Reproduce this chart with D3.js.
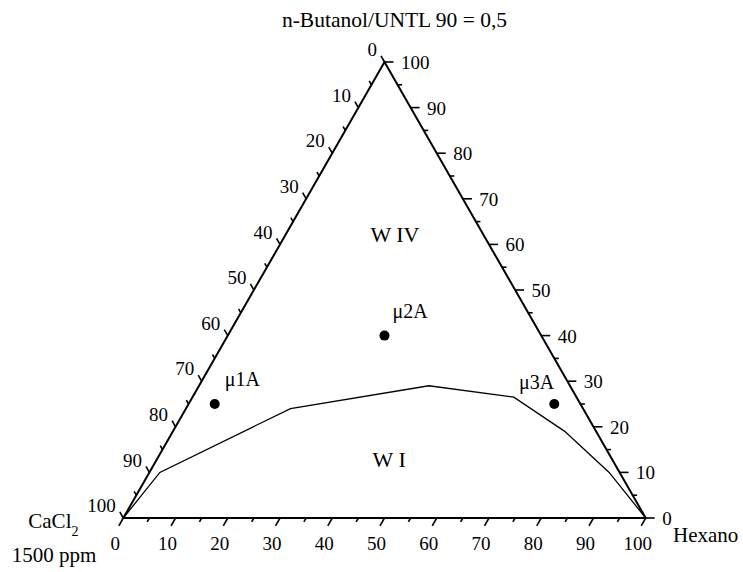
<!DOCTYPE html>
<html>
<head>
<meta charset="utf-8">
<script src="https://cdn.jsdelivr.net/npm/d3@7"></script>
<style>
  html, body { margin: 0; padding: 0; background: #fff; }
  svg { display: block; }
</style>
</head>
<body>
<svg id="chart" width="743" height="572" font-family="'Liberation Serif', 'Times New Roman', Times, serif"></svg>
<script>
// Ternary diagram: n-Butanol/UNTL (top), Hexano (bottom right), CaCl2 brine (bottom left)
const title = "n-Butanol/UNTL 90 = 0,5";
const majorTicks = [0, 10, 20, 30, 40, 50, 60, 70, 80, 90, 100];
const minorTicks = [5, 15, 25, 35, 45, 55, 65, 75, 85, 95];

// Phase boundary (Winsor I / Winsor IV), in % of the top and Hexano components
const boundaryButanol = [0, 10, 24, 29, 26.5, 19, 10, 0];
const boundaryHexano  = [0, 2, 20, 44, 61.5, 75, 88, 100];

// Microemulsion points
const pointNames   = ["μ1A", "μ2A", "μ3A"];
const pointButanol = [25, 40, 25];
const pointHexano  = [5, 30, 70];

// Region labels
const regionNames   = ["W IV", "W I"];
const regionButanol = [60.6, 11.2];
const regionHexano  = [21.7, 45.3];

const svg = d3.select("#chart");

// Horizontal position follows Hexano + half of the top component, vertical follows the top component
const x = d3.scaleLinear().domain([0, 100]).range([123.3, 645.7]);
const y = d3.scaleLinear().domain([0, 100]).range([518, 62]);
const pos = (t, h) => [x(h + t / 2), y(t)];

const BL = pos(0, 0), BR = pos(0, 100), T = pos(100, 0);

// Unit directions for the tick marks
function unit(a, b) { const dx = b[0] - a[0], dy = b[1] - a[1], n = Math.hypot(dx, dy); return [dx / n, dy / n]; }
const dirLeft = unit(BR, T);      // ticks on the CaCl2 side, parallel to the right edge
const dirBottom = unit(T, BL);    // ticks on the Hexano side, parallel to the left edge
const dirRight = [1, 0];          // ticks on the top-component side, horizontal

const g = svg.append("g");

// Triangle outline
g.append("path")
  .attr("d", d3.line()([BL, BR, T, BL]) + "Z")
  .attr("fill", "none").attr("stroke", "#000").attr("stroke-width", 2)
  .attr("stroke-linejoin", "miter");

function drawTicks(values, pointFn, dir, len) {
  g.selectAll(null).data(values).enter().append("line")
    .attr("x1", d => pointFn(d)[0]).attr("y1", d => pointFn(d)[1])
    .attr("x2", d => pointFn(d)[0] + dir[0] * len).attr("y2", d => pointFn(d)[1] + dir[1] * len)
    .attr("stroke", "#000").attr("stroke-width", 1.6);
}

// Left edge: CaCl2 %, 0 at top, 100 at bottom-left
const leftPt = c => pos(100 - c, 0);
// Bottom edge: Hexano %, 0 at left, 100 at right
const bottomPt = h => pos(0, h);
// Right edge: top component %, 0 at bottom-right, 100 at top
const rightPt = t => pos(t, 100 - t);

drawTicks(majorTicks, leftPt, dirLeft, 7);
drawTicks(minorTicks, leftPt, dirLeft, 4.5);
drawTicks(majorTicks, bottomPt, dirBottom, 9);
drawTicks(minorTicks, bottomPt, dirBottom, 4.5);
drawTicks(majorTicks, rightPt, dirRight, 9);
drawTicks(minorTicks, rightPt, dirRight, 4.5);

// Tick labels
g.selectAll(null).data(majorTicks).enter().append("text")
  .attr("x", d => leftPt(d)[0] - 7.5).attr("y", d => leftPt(d)[1] - 5.8)
  .attr("text-anchor", "end").attr("font-size", 19).text(d => d);
g.selectAll(null).data(majorTicks).enter().append("text")
  .attr("x", d => bottomPt(d)[0] - 8).attr("y", d => bottomPt(d)[1] + 32)
  .attr("text-anchor", "middle").attr("font-size", 19).text(d => d);
g.selectAll(null).data(majorTicks).enter().append("text")
  .attr("x", d => rightPt(d)[0] + 16.5).attr("y", d => rightPt(d)[1] + 7)
  .attr("text-anchor", "start").attr("font-size", 19).text(d => d);

// Phase boundary
const boundary = boundaryButanol.map((t, i) => pos(t, boundaryHexano[i]));
g.append("path")
  .attr("d", d3.line()(boundary))
  .attr("fill", "none").attr("stroke", "#000").attr("stroke-width", 1.3)
  .attr("stroke-linejoin", "miter");

// Points and their labels
const pts = pointNames.map((n, i) => ({ name: n, p: pos(pointButanol[i], pointHexano[i]), i }));
g.selectAll(null).data(pts).enter().append("circle")
  .attr("cx", d => d.p[0]).attr("cy", d => d.p[1]).attr("r", 5).attr("fill", "#000");
const labelOffsets = [[10, -18, "start"], [8, -18, "start"], [0, -15, "end"]];
g.selectAll(null).data(pts).enter().append("text")
  .attr("x", d => d.p[0] + labelOffsets[d.i][0]).attr("y", d => d.p[1] + labelOffsets[d.i][1])
  .attr("text-anchor", d => labelOffsets[d.i][2]).attr("font-size", 20).text(d => d.name);

// Region labels
regionNames.forEach((n, i) => {
  const p = pos(regionButanol[i], regionHexano[i]);
  g.append("text").attr("x", p[0]).attr("y", p[1])
    .attr("text-anchor", "middle").attr("font-size", 22).text(n);
});

// Title and vertex labels
svg.append("text").attr("x", 394.5).attr("y", 26.5).attr("text-anchor", "middle")
  .attr("font-size", 21.5).text(title);

const caLabel = svg.append("text").attr("x", 28.3).attr("y", 528).attr("font-size", 21);
caLabel.append("tspan").text("CaCl");
caLabel.append("tspan").attr("font-size", 14).attr("dy", 8).text("2");
svg.append("text").attr("x", 11.7).attr("y", 561.5).attr("font-size", 21).text("1500 ppm");
svg.append("text").attr("x", 673).attr("y", 541.7).attr("font-size", 21).text("Hexano");
</script>
</body>
</html>
